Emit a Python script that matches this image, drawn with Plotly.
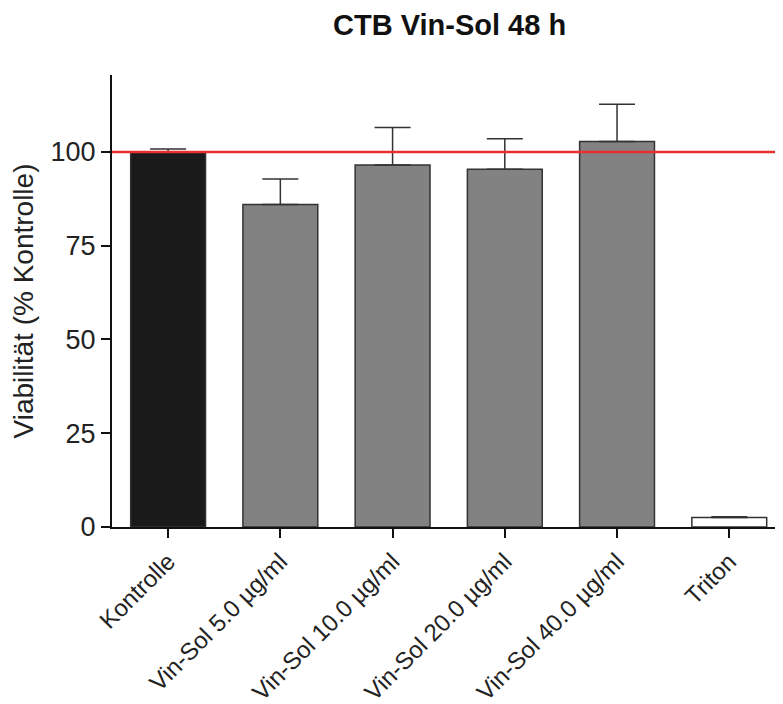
import plotly.graph_objects as go

categories = ["Kontrolle", "Vin-Sol 5.0 µg/ml", "Vin-Sol 10.0 µg/ml",
              "Vin-Sol 20.0 µg/ml", "Vin-Sol 40.0 µg/ml", "Triton"]
means = [100.0, 86.0, 96.5, 95.4, 102.8, 2.5]
sds = [0.8, 6.8, 10.0, 8.1, 9.9, 0.2]
fill_colors = ["#1a1a1a", "#828282", "#828282", "#828282", "#828282", "#ffffff"]
y_ticks = [0, 25, 50, 75, 100]
reference_level = 100

font_family = "Arial, Liberation Sans, sans-serif"

fig = go.Figure()
fig.add_trace(go.Bar(
    x=categories, y=means,
    marker=dict(color=fill_colors, line=dict(color="#333333", width=1.5)),
    error_y=dict(type="data", array=sds, arrayminus=[0] * len(sds), symmetric=False,
                 color="#333333", thickness=1.5, width=18),
    showlegend=False,
))

fig.add_shape(type="line", xref="paper", yref="y", x0=0, x1=1,
              y0=reference_level, y1=reference_level,
              line=dict(color="#e8302c", width=2.5), layer="above")

fig.update_layout(
    width=783, height=704,
    margin=dict(l=104, r=0, t=67, b=185),
    paper_bgcolor="white", plot_bgcolor="white",
    bargap=0.333,
    title=dict(text="<b>CTB Vin-Sol 48 h</b>", xref="container", x=0.564, xanchor="center",
               yref="container", y=0.976, yanchor="middle",
               font=dict(family=font_family, size=29, color="#111111")),
    font=dict(family=font_family, color="#222222"),
)
fig.update_xaxes(
    range=[-0.5, 5.55], showline=True, linecolor="#111111", linewidth=2,
    ticks="outside", ticklen=9, tickwidth=2, tickcolor="#111111",
    tickangle=-45, tickfont=dict(size=24, family=font_family, color="#222222"),
    showgrid=False, zeroline=False,
)
fig.update_yaxes(
    range=[0, 120.5], tickvals=y_ticks, showline=True, linecolor="#111111", linewidth=2,
    ticks="outside", ticklen=9, tickwidth=2, tickcolor="#111111",
    tickfont=dict(size=27, family=font_family, color="#222222"),
    title=dict(text="Viabilität (% Kontrolle)", standoff=14,
               font=dict(size=28, family=font_family, color="#222222")),
    showgrid=False, zeroline=False,
)

fig.write_html("out.html")
